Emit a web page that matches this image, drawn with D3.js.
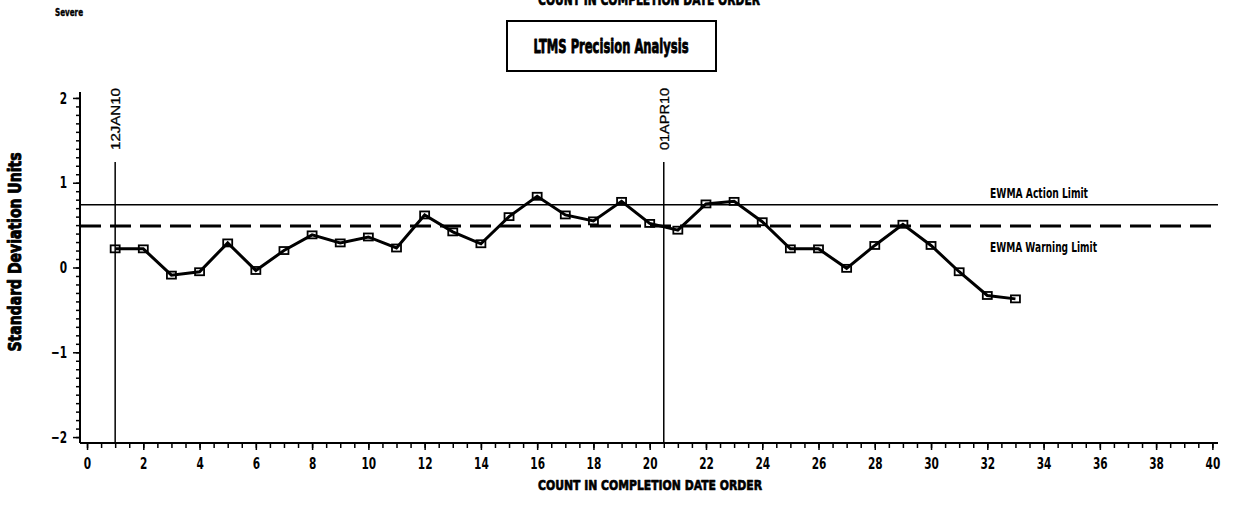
<!DOCTYPE html>
<html>
<head>
<meta charset="utf-8">
<script src="https://cdn.jsdelivr.net/npm/d3@7"></script>
<style>
  body { margin: 0; background: #fff; }
  svg { display: block; }
</style>
</head>
<body>
<div id="chart"></div>
<script>
var W = 1233, H = 510;

// data
var counts = d3.range(1, 34);
var ewma = [0.22, 0.22, -0.09, -0.05, 0.29, -0.035, 0.20, 0.385, 0.29, 0.36,
            0.23, 0.62, 0.42, 0.28, 0.60, 0.84, 0.62, 0.55, 0.78, 0.52,
            0.44, 0.75, 0.78, 0.54, 0.22, 0.22, -0.01, 0.26, 0.51, 0.26,
            -0.05, -0.33, -0.37];
var actionLimit = 0.74;
var warningLimit = 0.49;
var refLines = [{x: 1, label: "12JAN10"}, {x: 20.5, label: "01APR10"}];
var xTicks = d3.range(0, 41, 2);
var yTicks = [-2, -1, 0, 1, 2];

var svg = d3.select("#chart")
  .append("svg")
  .attr("width", W)
  .attr("height", H);

var xScale = d3.scaleLinear().domain([-0.25, 40.2]).range([80, 1218]);
var yScale = d3.scaleLinear().domain([-2.07, 2.07]).range([443, 92]);

// condensed bold text, squeezed to the reference width
function label(x, y, txt, size, width, anchor, rot) {
  var t = svg.append("text")
    .attr("transform", "translate(" + x + "," + y + ")" + (rot ? " rotate(" + rot + ")" : ""))
    .attr("text-anchor", anchor || "start")
    .style("font-family", "'DejaVu Sans', sans-serif")
    .style("font-weight", "bold")
    .style("font-size", size + "px")
    .text(txt);
  if (width) t.attr("textLength", width).attr("lengthAdjust", "spacingAndGlyphs");
  return t;
}
// heavier look for the SAS title fonts
function heavy(t, w) {
  return t.attr("stroke", "#000").attr("stroke-width", w || 0.7).attr("stroke-linejoin", "round");
}

var tickK = 0.66;

// axes
svg.append("g")
  .attr("transform", "translate(0," + yScale.range()[0] + ")")
  .call(d3.axisBottom(xScale).tickValues(d3.range(0, 40.1, 0.5)).tickSize(5).tickFormat(""))
  .call(g => g.select(".domain").attr("d", "M80,0H1218").attr("stroke-width", 2))
  .call(g => g.selectAll(".tick line").attr("stroke-width", 1.5));

svg.append("g")
  .attr("transform", "translate(0," + yScale.range()[0] + ")")
  .call(d3.axisBottom(xScale).tickValues(xTicks).tickSize(7).tickPadding(8))
  .call(g => g.select(".domain").remove())
  .call(g => g.selectAll(".tick line").attr("stroke-width", 1.5))
  .call(g => g.selectAll("text")
    .style("font-family", "'DejaVu Sans', sans-serif")
    .style("font-size", "16px").style("font-weight", "bold").attr("fill", "#000")
    .attr("transform", "scale(" + tickK + ",1)"));

svg.append("g")
  .attr("transform", "translate(80,0)")
  .call(d3.axisLeft(yScale).tickValues(d3.range(-20, 21).map(d => d / 10)).tickSize(4).tickFormat(""))
  .call(g => g.select(".domain").attr("d", "M0,92V443").attr("stroke-width", 2))
  .call(g => g.selectAll(".tick line").attr("stroke-width", 1.5));

svg.append("g")
  .attr("transform", "translate(80,0)")
  .call(d3.axisLeft(yScale).tickValues(yTicks).tickSize(7).tickPadding(6)
    .tickFormat(d => d < 0 ? "\u2212" + Math.abs(d) : d))
  .call(g => g.select(".domain").remove())
  .call(g => g.selectAll(".tick line").attr("stroke-width", 1.5))
  .call(g => g.selectAll("text")
    .style("font-family", "'DejaVu Sans', sans-serif")
    .style("font-size", "16px").style("font-weight", "bold").attr("fill", "#000")
    .attr("x", -13 / tickK)
    .attr("transform", "scale(" + tickK + ",1)"));

// limits
svg.append("line")
  .attr("x1", xScale(-0.25)).attr("x2", 1218)
  .attr("y1", yScale(actionLimit)).attr("y2", yScale(actionLimit))
  .attr("stroke", "#000").attr("stroke-width", 1.5);

svg.append("line")
  .attr("x1", xScale(-0.25)).attr("x2", 1218)
  .attr("y1", yScale(warningLimit)).attr("y2", yScale(warningLimit))
  .attr("stroke", "#000").attr("stroke-width", 3)
  .attr("stroke-dasharray", "21,9");

label(990, yScale(actionLimit) - 7, "EWMA Action Limit", 14, 98);
label(990, yScale(warningLimit) + 26, "EWMA Warning Limit", 14, 107);

// reference lines
refLines.forEach(function(r) {
  svg.append("line")
    .attr("x1", xScale(r.x)).attr("x2", xScale(r.x))
    .attr("y1", 162).attr("y2", 443)
    .attr("stroke", "#000").attr("stroke-width", 1.5);
  svg.append("text")
    .attr("transform", "translate(" + (xScale(r.x) + 5) + ",150) rotate(-90)")
    .attr("textLength", 62).attr("lengthAdjust", "spacingAndGlyphs")
    .text(r.label)
    .style("font-family", "'Liberation Sans', Arial, sans-serif")
    .style("font-size", "13px")
    .attr("stroke", "#000").attr("stroke-width", 0.3);
});

// ewma line
var line = d3.line()
  .x((d, i) => xScale(counts[i]))
  .y(d => yScale(d));

svg.append("path")
  .datum(ewma)
  .attr("d", line)
  .attr("fill", "none")
  .attr("stroke", "#000")
  .attr("stroke-width", 3);

svg.selectAll("rect.pt")
  .data(ewma)
  .enter()
  .append("rect")
  .attr("class", "pt")
  .attr("x", (d, i) => xScale(counts[i]) - 4.5)
  .attr("y", d => yScale(d) - 3.5)
  .attr("width", 9)
  .attr("height", 7)
  .attr("fill", "none")
  .attr("stroke", "#000")
  .attr("stroke-width", 1.8);

// titles
svg.append("rect")
  .attr("x", 507).attr("y", 21).attr("width", 209).attr("height", 50)
  .attr("fill", "none").attr("stroke", "#000").attr("stroke-width", 2);

heavy(label(611, 53, "LTMS Precision Analysis", 19, 155, "middle"), 0.9);
heavy(label(649, 5, "COUNT IN COMPLETION DATE ORDER", 15, 222, "middle"));
heavy(label(650, 490, "COUNT IN COMPLETION DATE ORDER", 14, 224, "middle"));
heavy(label(55, 16, "Severe", 10, 28), 0.4);
heavy(label(21, 252, "Standard Deviation Units", 17, 199, "middle", -90), 0.9);
</script>
</body>
</html>
